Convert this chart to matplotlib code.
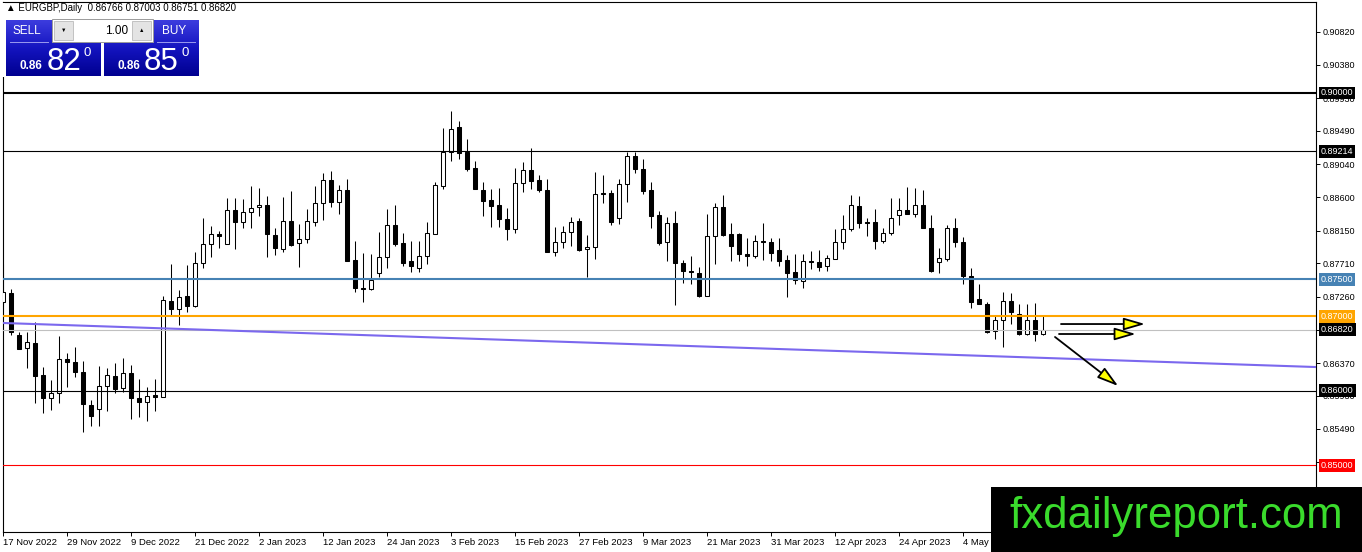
import numpy as np
import pandas as pd
import matplotlib
matplotlib.use("Agg")
import matplotlib.pyplot as plt
import matplotlib.transforms as mtransforms
from matplotlib.patches import Rectangle, FancyArrowPatch
from matplotlib.colors import LinearSegmentedColormap

plt.rcParams['font.family'] = ['Liberation Sans', 'DejaVu Sans']

# EURGBP daily candles, 17 Nov 2022 .. 18 May 2023
opens = [0.87191, 0.87312, 0.86748, 0.86573, 0.86640, 0.86210, 0.85901, 0.85968, 0.86425, 0.86385,
         0.86250, 0.85807, 0.85753, 0.86062, 0.86196, 0.86035, 0.86237, 0.85901, 0.85847, 0.85941,
         0.85914, 0.87205, 0.87097, 0.87272, 0.87137, 0.87715, 0.87971, 0.88105, 0.87971, 0.88428,
         0.88266, 0.88401, 0.88468, 0.88495, 0.88092, 0.87903, 0.88280, 0.87984, 0.88038, 0.88266,
         0.88522, 0.88831, 0.88535, 0.88696, 0.87756, 0.87379, 0.87366, 0.87581, 0.87796, 0.88226,
         0.87984, 0.87742, 0.87648, 0.87809, 0.88105, 0.88750, 0.89207, 0.89543, 0.89207, 0.88992,
         0.88696, 0.88562, 0.88495, 0.88307, 0.88172, 0.88790, 0.88965, 0.88831, 0.88696, 0.87863,
         0.87998, 0.88132, 0.88280, 0.87903, 0.87930, 0.88656, 0.88656, 0.88320, 0.88777, 0.89153,
         0.88979, 0.88696, 0.88360, 0.87998, 0.88253, 0.87715, 0.87608, 0.87581, 0.87272, 0.88078,
         0.88468, 0.88105, 0.88105, 0.87836, 0.87809, 0.88011, 0.87998, 0.87890, 0.87756, 0.87594,
         0.87474, 0.87742, 0.87729, 0.87675, 0.87769, 0.87998, 0.88172, 0.88481, 0.88266, 0.88266,
         0.88011, 0.88119, 0.88360, 0.88428, 0.88374, 0.88495, 0.88186, 0.87729, 0.87769, 0.88186,
         0.87998, 0.87541, 0.87231, 0.87164, 0.86801, 0.86949, 0.87205, 0.87030, 0.86761, 0.86949,
         0.86766]
highs = [0.87702, 0.87366, 0.86788, 0.86788, 0.86922, 0.86317, 0.86143, 0.86734, 0.86506, 0.86586,
         0.86398, 0.85874, 0.86330, 0.86304, 0.86371, 0.86438, 0.86344, 0.86156, 0.86049, 0.86156,
         0.87272, 0.87702, 0.87352, 0.87688, 0.87863, 0.88320, 0.88213, 0.88146, 0.88589, 0.88589,
         0.88576, 0.88750, 0.88723, 0.88616, 0.88186, 0.88602, 0.88683, 0.88240, 0.88441, 0.88750,
         0.88925, 0.88952, 0.88764, 0.88844, 0.88011, 0.87850, 0.87836, 0.88132, 0.88441, 0.88495,
         0.88119, 0.88011, 0.88011, 0.88266, 0.88804, 0.89530, 0.89758, 0.89624, 0.89382, 0.89086,
         0.88804, 0.88710, 0.88723, 0.88455, 0.88992, 0.89073, 0.89261, 0.88898, 0.88844, 0.88199,
         0.88213, 0.88334, 0.88320, 0.88092, 0.88938, 0.88898, 0.88696, 0.88844, 0.89207, 0.89207,
         0.89113, 0.88804, 0.88414, 0.88334, 0.88414, 0.87756, 0.87809, 0.87661, 0.88374, 0.88522,
         0.88629, 0.88253, 0.88119, 0.88051, 0.88092, 0.88253, 0.88051, 0.88051, 0.87823, 0.87836,
         0.87836, 0.87877, 0.87890, 0.87823, 0.88172, 0.88360, 0.88629, 0.88616, 0.88320, 0.88441,
         0.88186, 0.88589, 0.88589, 0.88737, 0.88723, 0.88696, 0.88360, 0.87917, 0.88226, 0.88320,
         0.88065, 0.87648, 0.87433, 0.87191, 0.87003, 0.87326, 0.87312, 0.87164, 0.87164, 0.87178,
         0.87003]
lows = [0.87137, 0.86748, 0.86559, 0.86304, 0.85834, 0.85699, 0.85740, 0.85834, 0.86049, 0.86183,
        0.85444, 0.85525, 0.85525, 0.85726, 0.85968, 0.85982, 0.85619, 0.85646, 0.85592, 0.85726,
        0.85914, 0.87003, 0.86882, 0.87057, 0.87124, 0.87648, 0.87796, 0.87917, 0.87971, 0.87903,
        0.88186, 0.88186, 0.88347, 0.87796, 0.87823, 0.87863, 0.87944, 0.87661, 0.87984, 0.88213,
        0.88293, 0.88468, 0.88374, 0.87742, 0.87326, 0.87191, 0.87352, 0.87527, 0.87648, 0.87944,
        0.87675, 0.87594, 0.87594, 0.87702, 0.88105, 0.88710, 0.89086, 0.89113, 0.88952, 0.88710,
        0.88347, 0.88199, 0.88199, 0.88024, 0.88119, 0.88670, 0.88710, 0.88670, 0.87863, 0.87809,
        0.87917, 0.87944, 0.87877, 0.87527, 0.87769, 0.88522, 0.88226, 0.88240, 0.88535, 0.88925,
        0.88643, 0.88186, 0.87957, 0.87742, 0.87151, 0.87447, 0.87433, 0.87258, 0.87272, 0.87702,
        0.88078, 0.87742, 0.87742, 0.87675, 0.87782, 0.87756, 0.87742, 0.87675, 0.87258, 0.87433,
        0.87379, 0.87634, 0.87608, 0.87608, 0.87769, 0.87903, 0.88146, 0.88186, 0.88078, 0.87903,
        0.87984, 0.88092, 0.88226, 0.88374, 0.88334, 0.88186, 0.87594, 0.87581, 0.87742, 0.87930,
        0.87433, 0.87110, 0.87164, 0.86775, 0.86694, 0.86586, 0.86895, 0.86748, 0.86748, 0.86667,
        0.86751]
closes = [0.87326, 0.86788, 0.86559, 0.86654, 0.86196, 0.85901, 0.85968, 0.86425, 0.86385, 0.86250,
          0.85820, 0.85659, 0.86062, 0.86210, 0.86022, 0.86237, 0.85901, 0.85847, 0.85928, 0.85914,
          0.87218, 0.87097, 0.87258, 0.87137, 0.87715, 0.87971, 0.88105, 0.88078, 0.88428, 0.88266,
          0.88401, 0.88455, 0.88495, 0.88105, 0.87917, 0.88280, 0.87957, 0.88038, 0.88280, 0.88522,
          0.88831, 0.88535, 0.88696, 0.87742, 0.87379, 0.87366, 0.87487, 0.87796, 0.88226, 0.87971,
          0.87715, 0.87675, 0.87809, 0.88119, 0.88764, 0.89207, 0.89516, 0.89194, 0.88979, 0.88710,
          0.88549, 0.88481, 0.88307, 0.88172, 0.88790, 0.88965, 0.88817, 0.88696, 0.87863, 0.87998,
          0.88132, 0.88266, 0.87890, 0.87930, 0.88643, 0.88643, 0.88266, 0.88777, 0.89153, 0.88979,
          0.88683, 0.88347, 0.87984, 0.88253, 0.87715, 0.87608, 0.87594, 0.87272, 0.88078, 0.88468,
          0.88092, 0.87944, 0.87836, 0.87809, 0.88011, 0.87998, 0.87850, 0.87742, 0.87581, 0.87487,
          0.87742, 0.87729, 0.87661, 0.87782, 0.87998, 0.88172, 0.88495, 0.88253, 0.88253, 0.88011,
          0.88119, 0.88320, 0.88428, 0.88374, 0.88495, 0.88186, 0.87608, 0.87782, 0.88186, 0.87998,
          0.87541, 0.87191, 0.87164, 0.86788, 0.86949, 0.87205, 0.87057, 0.86761, 0.86949, 0.86761,
          0.86820]
dates = pd.bdate_range('2022-11-17', periods=len(opens))

# price scale ticks on the right
scale_ticks = [0.90820, 0.90380, 0.89930, 0.89490, 0.89040, 0.88600, 0.88150,
               0.87710, 0.87260, 0.86820, 0.86370, 0.85930, 0.85490, 0.85040]

# horizontal levels
levels = [0.90000, 0.89214, 0.87500, 0.87000, 0.86820, 0.86000, 0.85000]
level_colors = ['black', 'black', '#4682B4', '#FFA500', '#C0C0C0', 'black', '#FF0000']
level_box = ['black', 'black', '#4682B4', '#FFA500', 'black', 'black', '#FF0000']
level_widths = [1.5, 0.8, 1.5, 1.5, 0.8, 0.8, 0.8]

# trend line (purple)
trend_bars = [0.0, 164.125]
trend_prices = [0.86909, 0.86317]

# forecast arrows
arrow_bar0 = [132.25, 132.0, 131.5]
arrow_bar1 = [142.75, 141.6, 139.4]
arrow_p0 = [0.86895, 0.86761, 0.86721]
arrow_p1 = [0.86895, 0.86761, 0.86062]

W, H = 1362, 552
fig = plt.figure(figsize=(W / 100, H / 100), dpi=100)
fig.patch.set_facecolor('white')

ax = fig.add_axes([3 / W, (H - 532) / H, 1313 / W, 530 / H])
ax.set_xlim(0, 164.125)
ax.set_ylim(0.84100, 0.91223)

x = np.arange(len(opens))
o = np.array(opens)
c = np.array(closes)
ax.vlines(x, lows, highs, colors='black', linewidth=0.75, zorder=2)
face = ['white' if cc >= oo else 'black' for oo, cc in zip(o, c)]
ax.bar(x, np.abs(c - o), bottom=np.minimum(o, c), width=0.58, color=face,
       edgecolor='black', linewidth=0.75, zorder=3)

for lv, col, lw in zip(levels, level_colors, level_widths):
    ax.axhline(lv, color=col, linewidth=lw, zorder=4)
ax.plot(trend_bars, trend_prices, color='#7B68EE', linewidth=1.5, zorder=4)

for b0, b1, p0, p1 in zip(arrow_bar0, arrow_bar1, arrow_p0, arrow_p1):
    ar = FancyArrowPatch((b0, p0), (b1, p1), arrowstyle='-|>,head_length=1.3,head_width=0.38',
                         mutation_scale=10, shrinkA=0, shrinkB=0,
                         facecolor='#FFFF00', edgecolor='black', linewidth=1.3, zorder=6)
    ax.add_patch(ar)

# axes styling
for sp in ax.spines.values():
    sp.set_color('black')
    sp.set_linewidth(0.8)
ax.yaxis.tick_right()
ax.set_yticks(scale_ticks)
ax.set_yticklabels([f'{t:.5f}' for t in scale_ticks])
ax.tick_params(axis='y', direction='out', length=3, width=0.7, pad=2, labelsize=6.5)

xt = list(range(0, len(opens), 8))
ax.set_xticks(xt)
ax.set_xticklabels([f'{dates[i].day} {dates[i]:%b %Y}' for i in xt])
ax.tick_params(axis='x', direction='out', length=3, width=0.7, pad=1.5, labelsize=6.8)
for lbl in ax.get_xticklabels():
    lbl.set_horizontalalignment('left')

# boxed level labels
tr = mtransforms.blended_transform_factory(ax.transAxes, ax.transData)
for lv, bc in zip(levels, level_box):
    ax.text(1 + 5 / 1313, lv, f'{lv:.5f}', transform=tr, ha='left', va='center',
            fontsize=6.5, color='white', clip_on=False, zorder=7,
            bbox=dict(boxstyle='square,pad=0.22', fc=bc, ec='none'))

# overlay in pixel coordinates: trade panel, title, watermark
ov = fig.add_axes([0, 0, 1, 1], zorder=10)
ov.set_facecolor('none')
ov.axis('off')

ov.add_patch(Rectangle((0, 3), 5, 74, facecolor='white', edgecolor='none'))
ov.text(6, 8, '\u25B2 EURGBP,Daily  0.86766 0.87003 0.86751 0.86820',
        fontsize=7, va='center', ha='left', color='black')

grad = np.linspace(0, 1, 60).reshape(-1, 1)
cm = LinearSegmentedColormap.from_list('mtblue', ['#3c3cde', '#1414c0', '#000090'])
for left in (6, 104):
    ov.imshow(grad, extent=(left, left + 95, 76, 20), cmap=cm, aspect='auto',
              origin='upper', interpolation='bilinear')
    ov.plot([left + 4, left + 42] if left == 6 else [left + 53, left + 91], [42, 42],
            color='#9a9af0', linewidth=0.7)

# lot spinner
ov.add_patch(Rectangle((52, 19), 101, 23, facecolor='white', edgecolor='#9a9a9a', linewidth=0.7))
ov.add_patch(Rectangle((54, 21), 19, 19, facecolor='#e4e4e4', edgecolor='#b0b0b0', linewidth=0.5))
ov.add_patch(Rectangle((132, 21), 19, 19, facecolor='#e4e4e4', edgecolor='#b0b0b0', linewidth=0.5))
ov.text(63.5, 30.5, '\u25BC', fontsize=4, ha='center', va='center', color='black')
ov.text(141.5, 30, '\u25B2', fontsize=4, ha='center', va='center', color='black')
ov.text(128, 30.5, '1.00', fontsize=8.5, ha='right', va='center', color='black')

ov.text(27, 31, 'SELL', fontsize=8.5, ha='center', va='center', color='white')
ov.text(174, 31, 'BUY', fontsize=8.5, ha='center', va='center', color='white')
for x0, big in ((20, '82'), (117, '85')):
    ov.text(x0, 69, '0.86', fontsize=8.5, fontweight='bold',
            ha='left', va='baseline', color='white')
    ov.text(x0 + 27, 70.5, big, fontsize=22.5,
            ha='left', va='baseline', color='white')
    ov.text(x0 + 64, 56, '0', fontsize=9.5,
            ha='left', va='baseline', color='white')

# watermark
ov.add_patch(Rectangle((991, 487), W - 991, H - 487, facecolor='black', edgecolor='none'))
ov.text(1009, 528, 'fxdailyreport.com', fontsize=31.5, color='#3ADB2C',
        ha='left', va='baseline')

ov.set_xlim(0, W)
ov.set_ylim(H, 0)

fig.savefig('out.png', dpi=100)
